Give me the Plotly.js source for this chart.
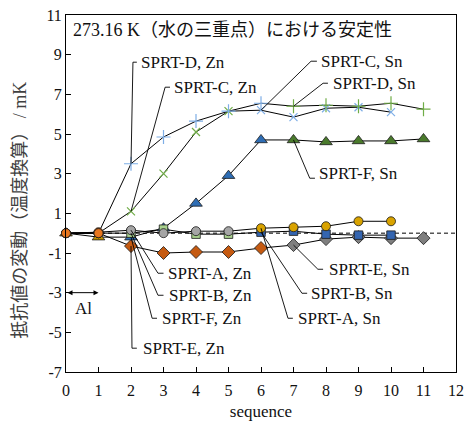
<!DOCTYPE html>
<html>
<head>
<meta charset="utf-8">
<script src="https://cdn.plot.ly/plotly-3.0.1.min.js"></script>
<style>html,body{margin:0;padding:0;background:#fff;}#chart{width:472px;height:422px;}</style>
</head>
<body>
<div id="chart"></div>
<script>
// ---- data ----
const sequence = [0, 1, 2, 3, 4, 5, 6, 7, 8, 9, 10, 11];
const sprtA = [0, 0.05, 0.15, 0.0, 0.1, 0.1, 0.25, 0.3, 0.35, 0.6, 0.6];
const sprtB = [0, 0, 0.0, 0.2, -0.05, -0.05, 0.05, 0.1, -0.05, -0.1, -0.1];
const sprtC = [0, 0, 1.1, 3.0, 5.1, 6.15, 6.2, 5.85, 6.3, 6.35, 6.1];
const sprtD = [0, 0, 3.5, 4.85, 5.65, 6.15, 6.55, 6.4, 6.45, 6.4, 6.55, 6.25];
const sprtE = [0, 0, -0.65, -1.0, -0.95, -0.95, -0.75, -0.6, -0.3, -0.2, -0.25, -0.25];
const sprtF = [0, -0.2, -0.2, 0.25, 1.5, 2.9, 4.7, 4.7, 4.6, 4.65, 4.65, 4.75];
const phaseABC = ['Al','Al','Zn','Zn','Zn','Zn','Sn','Sn','Sn','Sn','Sn'];
const phaseDEF = ['Al','Al','Zn','Zn','Zn','Zn','Zn','Sn','Sn','Sn','Sn','Sn'];
const yTicks = [-7, -5, -3, -1, 1, 3, 5, 7, 9, 11];
const xTicks = [0, 1, 2, 3, 4, 5, 6, 7, 8, 9, 10, 11, 12];

// ---- styles ----
const SERIF = "'Liberation Serif', 'Noto Sans CJK JP', serif";
const CJK = "'Liberation Serif', 'Noto Sans CJK JP', sans-serif";
const ORANGE = '#E8761E';
const series = {
  E: {vals: sprtE, phase: phaseDEF, styles: {
    Al: {symbol: 'circle', color: ORANGE, size: 9},
    Zn: {symbol: 'diamond', color: '#C55A11', size: 10},
    Sn: {symbol: 'diamond', color: '#7F7F7F', size: 10}}},
  F: {vals: sprtF, phase: phaseDEF, styles: {
    Al: {symbol: 'triangle-up', color: '#BF9000', size: 11},
    Zn: {symbol: 'triangle-up', color: '#2E6DB4', size: 11},
    Sn: {symbol: 'triangle-up', color: '#4A7A2C', size: 11}}},
  B: {vals: sprtB, phase: phaseABC, styles: {
    Al: {symbol: 'circle', color: ORANGE, size: 9},
    Zn: {symbol: 'square', color: '#A9D18E', size: 8.5},
    Sn: {symbol: 'square', color: '#3465B0', size: 8.5}}},
  A: {vals: sprtA, phase: phaseABC, styles: {
    Al: {symbol: 'circle', color: ORANGE, size: 9},
    Zn: {symbol: 'circle', color: '#A5A5A5', size: 9},
    Sn: {symbol: 'circle', color: '#D9A300', size: 9}}},
  C: {vals: sprtC, phase: phaseABC, styles: {
    Al: {symbol: 'circle', color: ORANGE, size: 9},
    Zn: {symbol: 'x-thin', color: '#70AD47', size: 8, thin: true},
    Sn: {symbol: 'x-thin', color: '#7EAEE6', size: 8, thin: true}}},
  D: {vals: sprtD, phase: phaseDEF, styles: {
    Al: {symbol: 'circle', color: ORANGE, size: 9},
    Zn: {symbol: 'cross-thin', color: '#7EAEE6', size: 10, thin: true},
    Sn: {symbol: 'cross-thin', color: '#70AD47', size: 10, thin: true}}}
};
const drawOrder = ['E', 'F', 'B', 'A', 'C', 'D'];

const traces = [];
// connecting lines
drawOrder.forEach(k => {
  const s = series[k];
  traces.push({x: sequence.slice(0, s.vals.length), y: s.vals, type: 'scatter', mode: 'lines',
    line: {color: '#000', width: 1}, hoverinfo: 'skip', showlegend: false, cliponaxis: false});
});
// markers per phase
function markerTrace(k, ph) {
  const s = series[k], st = s.styles[ph];
  const xs = [], ys = [];
  s.vals.forEach((v, i) => { if (s.phase[i] === ph) { xs.push(sequence[i]); ys.push(v); } });
  const marker = st.thin
    ? {symbol: st.symbol, size: st.size, color: st.color, line: {color: st.color, width: 1.2}}
    : {symbol: st.symbol, size: st.size, color: st.color, line: {color: '#1a1a1a', width: 0.8}};
  return {x: xs, y: ys, type: 'scatter', mode: 'markers', marker: marker, showlegend: false, cliponaxis: false};
}
traces.push(markerTrace('F', 'Al'));
drawOrder.forEach(k => { traces.push(markerTrace(k, 'Zn')); traces.push(markerTrace(k, 'Sn')); });
['E', 'B', 'A', 'C', 'D'].forEach(k => traces.push(markerTrace(k, 'Al')));

// ---- labels with elbow leaders ----
const labels = [
  {text: 'SPRT-D, Zn', s: 'D', i: 2, elbow: [2.06, 8.62], end: [2.18, 8.62], tx: 2.25, ty: 8.62},
  {text: 'SPRT-C, Zn', s: 'C', i: 2, elbow: [3.05, 7.36], end: [3.2, 7.36], tx: 3.27, ty: 7.36},
  {text: 'SPRT-C, Sn', s: 'C', i: 6, elbow: [7.54, 8.67], end: [7.72, 8.67], tx: 7.79, ty: 8.67},
  {text: 'SPRT-D, Sn', s: 'D', i: 7, elbow: [7.91, 7.56], end: [8.06, 7.56], tx: 8.15, ty: 7.56},
  {text: 'SPRT-F, Sn', s: 'F', i: 7, elbow: [7.5, 2.77], end: [7.66, 2.77], tx: 7.73, ty: 3.0},
  {text: 'SPRT-E, Sn', s: 'E', i: 7, elbow: [7.75, -1.82], end: [7.91, -1.82], tx: 8.03, ty: -1.82},
  {text: 'SPRT-B, Sn', s: 'B', i: 6, elbow: [7.26, -3.03], end: [7.42, -3.03], tx: 7.48, ty: -3.03},
  {text: 'SPRT-A, Sn', s: 'A', i: 6, elbow: [6.83, -4.29], end: [6.98, -4.29], tx: 7.08, ty: -4.29},
  {text: 'SPRT-A, Zn', s: 'A', i: 2, elbow: [2.83, -2.02], end: [3.0, -2.02], tx: 3.08, ty: -2.02},
  {text: 'SPRT-B, Zn', s: 'B', i: 2, elbow: [2.83, -3.13], end: [3.0, -3.13], tx: 3.11, ty: -3.13},
  {text: 'SPRT-F, Zn', s: 'F', i: 2, elbow: [2.65, -4.29], end: [2.8, -4.29], tx: 2.89, ty: -4.29},
  {text: 'SPRT-E, Zn', s: 'E', i: 2, elbow: [2.03, -5.8], end: [2.18, -5.8], tx: 2.31, ty: -5.8}
];

const shapes = [
  {type: 'line', xref: 'x', yref: 'y', x0: 0, x1: 12, y0: 0, y1: 0, layer: 'below',
   line: {color: '#000', width: 1, dash: '4px,3px'}}
];
const annotations = [];
labels.forEach(L => {
  const px = sequence[L.i], py = series[L.s].vals[L.i];
  shapes.push({type: 'path', xref: 'x', yref: 'y',
    path: `M ${px},${py} L ${L.elbow[0]},${L.elbow[1]} L ${L.end[0]},${L.end[1]}`,
    line: {color: '#000', width: 0.9}});
  annotations.push({x: L.tx, y: L.ty, xref: 'x', yref: 'y', text: L.text, showarrow: false,
    xanchor: 'left', yanchor: 'middle', font: {family: SERIF, size: 17, color: '#111'}});
});
// Al range arrow
annotations.push({x: 1, y: -3, ax: 0, ay: -3, xref: 'x', yref: 'y', axref: 'x', ayref: 'y',
  text: '', showarrow: true, arrowside: 'end+start', arrowhead: 2, arrowsize: 1, arrowwidth: 1,
  arrowcolor: '#000', standoff: 0, startstandoff: 0});
annotations.push({x: 0.54, y: -3.8, xref: 'x', yref: 'y', text: 'Al', showarrow: false,
  font: {family: SERIF, size: 17, color: '#111'}});
// in-plot title
annotations.push({x: 0.012, y: 0.958, xref: 'paper', yref: 'paper', xanchor: 'left', yanchor: 'middle',
  text: '273.16 K（水の三重点）における安定性', showarrow: false,
  font: {family: CJK, size: 18, color: '#111'}});
// y-axis title
annotations.push({x: -0.12, y: 0.452, xref: 'paper', yref: 'paper', xanchor: 'center', yanchor: 'middle',
  textangle: -90, text: '抵抗値の変動（温度換算） / mK', showarrow: false,
  font: {family: CJK, size: 18, color: '#404040'}});

const layout = {
  width: 472, height: 422,
  margin: {l: 66, r: 16, t: 15, b: 50},
  paper_bgcolor: '#fff', plot_bgcolor: '#fff',
  showlegend: false,
  xaxis: {range: [0, 12], tickvals: xTicks, ticktext: xTicks.map(String), ticks: 'inside', ticklen: 5,
    tickcolor: '#000', showline: true, linecolor: '#000', linewidth: 1, mirror: true,
    showgrid: false, zeroline: false, ticklabelstandoff: 4,
    tickfont: {family: SERIF, size: 16, color: '#111'},
    title: {text: 'sequence', font: {family: SERIF, size: 17, color: '#111'}, standoff: 6}},
  yaxis: {range: [-7, 11], tickvals: yTicks, ticktext: yTicks.map(String), ticks: 'inside', ticklen: 5,
    tickcolor: '#000', showline: true, linecolor: '#000', linewidth: 1, mirror: true,
    showgrid: false, zeroline: false, tickfont: {family: SERIF, size: 16, color: '#111'}},
  shapes: shapes,
  annotations: annotations
};

Plotly.newPlot('chart', traces, layout, {staticPlot: true, displayModeBar: false});
</script>
</body>
</html>
